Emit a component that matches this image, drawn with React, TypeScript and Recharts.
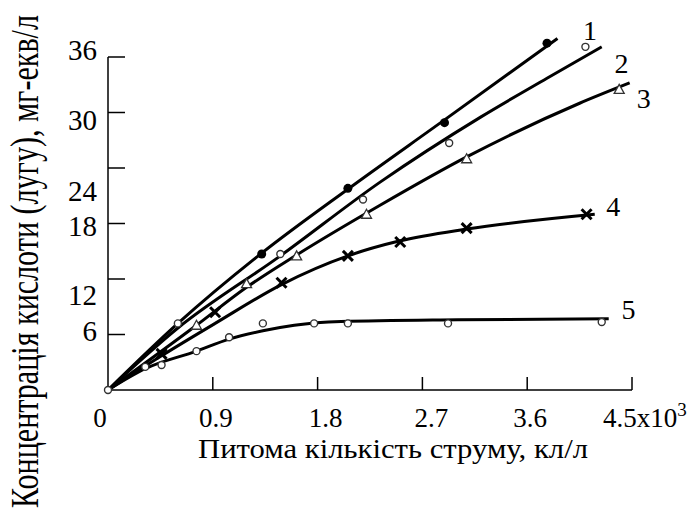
import React from 'react';
import { ComposedChart, Line, Scatter, XAxis, YAxis, ReferenceLine, ReferenceDot } from 'recharts';

// ---- data ----
const xTicks = [0, 0.9, 1.8, 2.7, 3.6, 4.5];
const yTicks = [6, 12, 18, 24, 30, 36];

// fitted curves
const fit1X = [0, 0.6, 1.32, 2.08, 2.89, 3.86];
const fit1Y = [0, 7.2, 14.8, 21.9, 29.2, 38.0];
const fit2X = [0, 0.6, 1.48, 2.34, 3.2, 3.77, 4.24];
const fit2Y = [0, 6.7, 14.5, 22.5, 29.5, 33.7, 37.1];
const fit3X = [0, 0.76, 1.19, 1.62, 2.34, 3.08, 4.05, 4.48];
const fit3Y = [0, 7.0, 11.1, 14.6, 20.0, 25.2, 31.0, 33.2];
const fit4X = [0, 0.46, 0.92, 1.49, 2.06, 2.5, 3.08, 4.18];
const fit4Y = [0, 3.7, 7.2, 11.4, 14.5, 16.1, 17.4, 19.0];
const fit5X = [0, 0.32, 0.76, 1.04, 1.33, 1.6, 2.0, 3.0, 4.3];
const fit5Y = [0, 2.3, 4.2, 5.5, 6.4, 7.0, 7.4, 7.6, 7.7];

// measured points
const pts1X = [1.32, 2.06, 2.89, 3.77];
const pts1Y = [14.7, 21.8, 28.9, 37.5];
const pts2X = [0.6, 1.48, 2.19, 2.93, 4.1];
const pts2Y = [7.2, 14.7, 20.6, 26.7, 37.1];
const pts3X = [0.76, 1.19, 1.62, 2.22, 3.08, 4.39];
const pts3Y = [7.0, 11.5, 14.5, 19.0, 25.0, 32.5];
const pts4X = [0.46, 0.92, 1.49, 2.06, 2.51, 3.08, 4.11];
const pts4Y = [3.9, 8.4, 11.6, 14.5, 16.0, 17.5, 19.0];
const pts5X = [0, 0.32, 0.46, 0.76, 1.04, 1.33, 1.77, 2.06, 2.92, 4.24];
const pts5Y = [0, 2.5, 2.7, 4.2, 5.7, 7.2, 7.2, 7.2, 7.2, 7.35];

const curveNames = ['1', '2', '3', '4', '5'];
const curveNameX = [4.14, 4.41, 4.6, 4.34, 4.47];
const curveNameY = [38.9, 35.3, 31.6, 19.9, 8.8];

const xTitle = 'Питома кількість струму, кл/л';
const yTitle = 'Концентрація кислоти (лугу), мг-екв/л';

const zip = (xs: number[], ys: number[]) => xs.map((x, i) => ({ x, y: ys[i] }));

const FONT = 'Liberation Serif, DejaVu Serif, serif';

const xLabelDx: Record<string, number> = { '0': -8, '0.9': 3, '1.8': 8, '2.7': 9, '3.6': 3 };
const yLabelDy: Record<string, number> = { '36': -7, '30': 7, '24': 23, '18': 2, '12': 16, '6': -4 };

const XTick = (props: any) => {
  const { x, y, payload } = props;
  const v = payload.value;
  const key = String(v);
  if (v === 4.5) {
    return (
      <g>
        <line x1={x} y1={y} x2={x} y2={y - 13} stroke="#000" strokeWidth={1.5} />
        <text x={x - 29} y={y + 37} style={{ fontFamily: FONT }} fontSize={27} fill="#000" textAnchor="start">
          4.5x10<tspan dy={-11} fontSize={19}>3</tspan>
        </text>
      </g>
    );
  }
  return (
    <g>
      {v !== 0 && <line x1={x} y1={y} x2={x} y2={y - 13} stroke="#000" strokeWidth={1.5} />}
      <text x={x + (xLabelDx[key] || 0)} y={y + 37} style={{ fontFamily: FONT }} fontSize={27} fill="#000" textAnchor="middle">
        {key}
      </text>
    </g>
  );
};

const YTick = (props: any) => {
  const { x, y, payload } = props;
  const key = String(payload.value);
  return (
    <g>
      <line x1={x} y1={y} x2={x + 17} y2={y} stroke="#000" strokeWidth={1.5} />
      <text x={x - 11} y={y + (yLabelDy[key] || 0) + 10} style={{ fontFamily: FONT }} fontSize={29} fill="#000" textAnchor="end">
        {key}
      </text>
    </g>
  );
};

const FilledDot = (p: any) => <circle cx={p.cx} cy={p.cy} r={4.5} fill="#000" />;
const OpenDot = (p: any) => <circle cx={p.cx} cy={p.cy} r={3.5} fill="#fff" stroke="#333" strokeWidth={1.4} />;
const Tri = (p: any) => (
  <polygon
    points={`${p.cx},${p.cy - 5} ${p.cx - 5},${p.cy + 4} ${p.cx + 5},${p.cy + 4}`}
    fill="#fff"
    stroke="#333"
    strokeWidth={1.3}
  />
);
const Cross = (p: any) => (
  <g stroke="#000" strokeWidth={3}>
    <line x1={p.cx - 5} y1={p.cy - 5} x2={p.cx + 5} y2={p.cy + 5} />
    <line x1={p.cx - 5} y1={p.cy + 5} x2={p.cx + 5} y2={p.cy - 5} />
  </g>
);

const fits = [
  zip(fit1X, fit1Y),
  zip(fit2X, fit2Y),
  zip(fit3X, fit3Y),
  zip(fit4X, fit4Y),
  zip(fit5X, fit5Y),
];

export default function App() {
  return (
    <div style={{ position: 'absolute', left: 0, top: 0, width: 699, height: 510, background: '#fff', fontFamily: FONT }}>
      <ComposedChart
        width={699}
        height={510}
        margin={{ top: 20, right: 67, bottom: 80, left: 0 }}
        style={{ fontFamily: FONT }}
      >
        <XAxis
          type="number"
          dataKey="x"
          domain={[0, 4.5]}
          ticks={xTicks}
          tickSize={0}
          tickMargin={0}
          tickLine={false}
          axisLine={{ stroke: '#000', strokeWidth: 1.5 }}
          tick={<XTick />}
          height={40}
          interval={0}
        />
        <YAxis
          type="number"
          dataKey="y"
          domain={[0, 40]}
          ticks={yTicks}
          tickSize={0}
          tickMargin={0}
          tickLine={false}
          axisLine={false}
          tick={<YTick />}
          width={108}
          interval={0}
        />
        <ReferenceLine
          segment={[{ x: 0, y: 0 }, { x: 0, y: 36 }]}
          stroke="#000"
          strokeWidth={1.5}
        />
        {fits.map((d, i) => (
          <Line
            key={'fit' + i}
            data={d}
            dataKey="y"
            type="monotone"
            stroke="#000"
            strokeWidth={3}
            dot={false}
            activeDot={false}
            isAnimationActive={false}
          />
        ))}
        <Scatter data={zip(pts1X, pts1Y)} dataKey="y" shape={FilledDot} isAnimationActive={false} />
        <Scatter data={zip(pts2X, pts2Y)} dataKey="y" shape={OpenDot} isAnimationActive={false} />
        <Scatter data={zip(pts3X, pts3Y)} dataKey="y" shape={Tri} isAnimationActive={false} />
        <Scatter data={zip(pts4X, pts4Y)} dataKey="y" shape={Cross} isAnimationActive={false} />
        <Scatter data={zip(pts5X, pts5Y)} dataKey="y" shape={OpenDot} isAnimationActive={false} />
        {curveNames.map((n, i) => (
          <ReferenceDot
            key={'lbl' + n}
            x={curveNameX[i]}
            y={curveNameY[i]}
            r={0}
            ifOverflow="visible"
            stroke="none"
            fill="none"
            label={{ value: n, position: 'center', style: { fontFamily: FONT }, fontSize: 28, fill: '#000' }}
          />
        ))}
      </ComposedChart>
      <svg width={699} height={510} style={{ position: 'absolute', left: 0, top: 0, pointerEvents: 'none', fontFamily: FONT }}>
        <text
          x={198}
          y={458}
          style={{ fontFamily: FONT }}
          fontSize={27}
          fill="#000"
          textAnchor="start"
          textLength={390}
          lengthAdjust="spacingAndGlyphs"
        >
          {xTitle}
        </text>
        <text
          transform="translate(38,508) rotate(-90) scale(1,1.5)"
          x={0}
          y={0}
          style={{ fontFamily: FONT }}
          fontSize={26}
          fill="#000"
          textAnchor="start"
          textLength={493}
          lengthAdjust="spacingAndGlyphs"
        >
          {yTitle}
        </text>
      </svg>
    </div>
  );
}
